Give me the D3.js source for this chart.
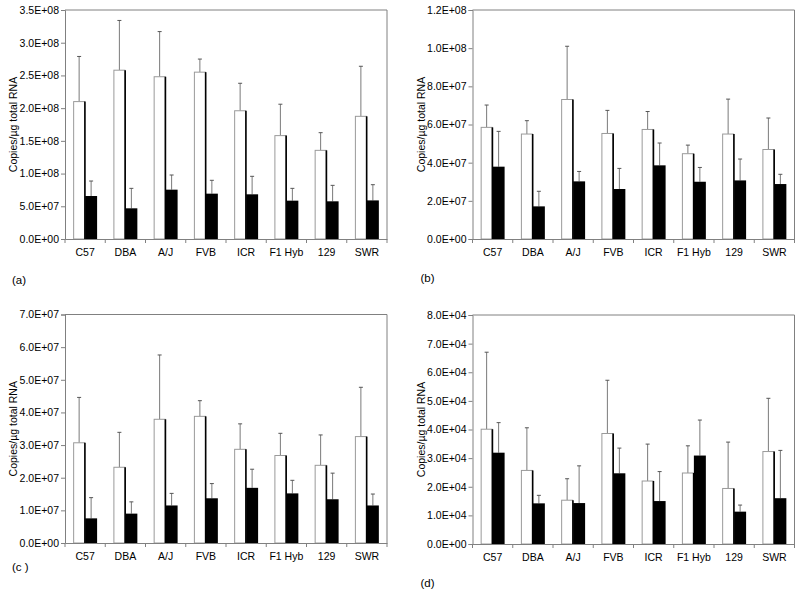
<!DOCTYPE html>
<html>
<head>
<meta charset="utf-8">
<script src="https://cdn.jsdelivr.net/npm/d3@7"></script>
<style>
  html, body { margin: 0; padding: 0; background: #fff; }
  svg { display: block; font-family: "Liberation Sans", Arial, sans-serif; }
</style>
</head>
<body>
<svg id="chart" width="800" height="592"></svg>
<script>
// ---------- DATA ----------
const categories = ["C57", "DBA", "A/J", "FVB", "ICR", "F1 Hyb", "129", "SWR"];
const yTitle = "Copies/\u00b5g total RNA";
const panelLabels = ["(a)", "(b)", "(c )", "(d)"];

// panel (a)
const aWhite    = [2.10e8, 2.58e8, 2.48e8, 2.55e8, 1.96e8, 1.58e8, 1.355e8, 1.875e8];
const aWhiteErr = [0.69e8, 0.76e8, 0.69e8, 0.20e8, 0.42e8, 0.48e8, 0.27e8, 0.765e8];
const aBlack    = [0.657e8, 0.469e8, 0.754e8, 0.693e8, 0.683e8, 0.586e8, 0.576e8, 0.59e8];
const aBlackErr = [0.229e8, 0.305e8, 0.224e8, 0.204e8, 0.275e8, 0.188e8, 0.244e8, 0.24e8];
const aTicks    = [0, 0.5e8, 1.0e8, 1.5e8, 2.0e8, 2.5e8, 3.0e8, 3.5e8];

// panel (b)
const bWhite    = [5.85e7, 5.5e7, 7.31e7, 5.53e7, 5.74e7, 4.47e7, 5.5e7, 4.69e7];
const bWhiteErr = [1.17e7, 0.70e7, 2.79e7, 1.21e7, 0.94e7, 0.45e7, 1.83e7, 1.65e7];
const bBlack    = [3.79e7, 1.71e7, 3.02e7, 2.62e7, 3.86e7, 3.0e7, 3.07e7, 2.88e7];
const bBlackErr = [1.85e7, 0.79e7, 0.52e7, 1.08e7, 1.17e7, 0.75e7, 1.12e7, 0.51e7];
const bTicks    = [0, 2e7, 4e7, 6e7, 8e7, 1.0e8, 1.2e8];

// panel (c)
const cWhite    = [3.07e7, 2.32e7, 3.79e7, 3.88e7, 2.87e7, 2.68e7, 2.38e7, 3.26e7];
const cWhiteErr = [1.39e7, 1.07e7, 1.97e7, 0.48e7, 0.78e7, 0.68e7, 0.93e7, 1.51e7];
const cBlack    = [0.755e7, 0.90e7, 1.15e7, 1.37e7, 1.69e7, 1.52e7, 1.34e7, 1.15e7];
const cBlackErr = [0.635e7, 0.36e7, 0.37e7, 0.45e7, 0.57e7, 0.40e7, 0.80e7, 0.35e7];
const cTicks    = [0, 1e7, 2e7, 3e7, 4e7, 5e7, 6e7, 7e7];

// panel (d)
const dWhite    = [4.01e4, 2.57e4, 1.53e4, 3.86e4, 2.20e4, 2.48e4, 1.94e4, 3.23e4];
const dWhiteErr = [2.69e4, 1.49e4, 0.75e4, 1.86e4, 1.29e4, 0.95e4, 1.62e4, 1.86e4];
const dBlack    = [3.19e4, 1.42e4, 1.43e4, 2.47e4, 1.50e4, 3.09e4, 1.13e4, 1.60e4];
const dBlackErr = [1.05e4, 0.28e4, 1.30e4, 0.88e4, 1.03e4, 1.24e4, 0.23e4, 1.67e4];
const dTicks    = [0, 1e4, 2e4, 3e4, 4e4, 5e4, 6e4, 7e4, 8e4];

// ---------- LAYOUT ----------
const panels = [
  { white: aWhite, whiteErr: aWhiteErr, black: aBlack, blackErr: aBlackErr, ticks: aTicks,
    left: 65, right: 387, top: 10, bottom: 239, titleX: 13, labelX: 12, labelY: 284, label: panelLabels[0] },
  { white: bWhite, whiteErr: bWhiteErr, black: bBlack, blackErr: bBlackErr, ticks: bTicks,
    left: 472.5, right: 794.5, top: 10, bottom: 239, titleX: 421.5, labelX: 420.5, labelY: 282, label: panelLabels[1] },
  { white: cWhite, whiteErr: cWhiteErr, black: cBlack, blackErr: cBlackErr, ticks: cTicks,
    left: 65, right: 387, top: 314.5, bottom: 543, titleX: 13, labelX: 12, labelY: 571, label: panelLabels[2] },
  { white: dWhite, whiteErr: dWhiteErr, black: dBlack, blackErr: dBlackErr, ticks: dTicks,
    left: 472.5, right: 794.5, top: 315, bottom: 544, titleX: 421.5, labelX: 420.5, labelY: 587, label: panelLabels[3] }
];

function fmtE(v) {
  if (v === 0) return "0.0E+00";
  const e = Math.floor(Math.log10(v) + 1e-9);
  const m = v / Math.pow(10, e);
  return m.toFixed(1) + "E+" + String(e).padStart(2, "0");
}

const svg = d3.select("#chart");
const axisGray = "#808080";
const fontSize = 10.5;

panels.forEach(p => {
  const g = svg.append("g");
  const x = d3.scaleBand().domain(categories).range([p.left, p.right]).padding(0);
  const sub = d3.scaleBand().domain(["white", "black"]).range([0, x.bandwidth()])
    .paddingInner(0).paddingOuter(0.68).align(0.5);
  const y = d3.scaleLinear().domain([0, d3.max(p.ticks)]).range([p.bottom, p.top]);

  // frame (top + right)
  g.append("path")
    .attr("d", `M${p.left},${p.top}H${p.right}V${p.bottom}`)
    .attr("fill", "none").attr("stroke", axisGray).attr("stroke-width", 1);

  const rows = categories.map((c, i) => ({
    c, w: p.white[i], we: p.whiteErr[i], b: p.black[i], be: p.blackErr[i]
  }));

  // error bars (drawn behind bars)
  const err = [];
  rows.forEach(r => {
    err.push({ cx: x(r.c) + sub("white") + sub.bandwidth() / 2, v: r.w, e: r.we });
    err.push({ cx: x(r.c) + sub("black") + sub.bandwidth() / 2, v: r.b, e: r.be });
  });
  const eg = g.append("g").attr("stroke", "#7a7a7a").attr("stroke-width", 1);
  eg.selectAll("line.v").data(err).join("line").attr("class", "v")
    .attr("x1", d => d.cx).attr("x2", d => d.cx)
    .attr("y1", d => y(d.v)).attr("y2", d => y(d.v + d.e));
  eg.selectAll("line.cap").data(err).join("line").attr("class", "cap")
    .attr("stroke", "#555")
    .attr("x1", d => d.cx - 2).attr("x2", d => d.cx + 2)
    .attr("y1", d => y(d.v + d.e)).attr("y2", d => y(d.v + d.e));

  // white bars
  g.selectAll("rect.w").data(rows).join("rect").attr("class", "w")
    .attr("x", d => x(d.c) + sub("white") + 0.5)
    .attr("y", d => y(d.w))
    .attr("width", sub.bandwidth() - 1)
    .attr("height", d => y(0) - y(d.w))
    .attr("fill", "#fff").attr("stroke", "#9a9a9a").attr("stroke-width", 1);
  // white bar shadow edge on the right
  g.selectAll("line.wr").data(rows).join("line").attr("class", "wr")
    .attr("x1", d => x(d.c) + sub("white") + sub.bandwidth() - 0.2)
    .attr("x2", d => x(d.c) + sub("white") + sub.bandwidth() - 0.2)
    .attr("y1", d => y(d.w)).attr("y2", y(0))
    .attr("stroke", "#000").attr("stroke-width", 1.6);

  // black bars
  g.selectAll("rect.b").data(rows).join("rect").attr("class", "b")
    .attr("x", d => x(d.c) + sub("black"))
    .attr("y", d => y(d.b))
    .attr("width", sub.bandwidth())
    .attr("height", d => y(0) - y(d.b))
    .attr("fill", "#000");

  // redraw error bar stubs above black bars? (error bar goes up from bar top, already visible)

  // y axis
  const ya = g.append("g").attr("transform", `translate(${p.left},0)`)
    .call(d3.axisLeft(y).tickValues(p.ticks).tickFormat(fmtE).tickSize(4).tickPadding(2));
  ya.select(".domain").attr("stroke", axisGray);
  ya.selectAll(".tick line").attr("stroke", axisGray);
  ya.selectAll("text").attr("font-size", fontSize).attr("fill", "#000")
    .attr("font-family", "Liberation Sans, Arial, sans-serif");

  // x axis
  const xa = g.append("g").attr("transform", `translate(0,${p.bottom})`)
    .call(d3.axisBottom(x).tickSize(0).tickPadding(10));
  xa.select(".domain").attr("stroke", axisGray);
  xa.selectAll("text").attr("font-size", fontSize).attr("fill", "#000")
    .attr("font-family", "Liberation Sans, Arial, sans-serif");
  // boundary ticks
  const bounds = categories.map(c => x(c)).concat([x(categories[categories.length - 1]) + x.bandwidth()]);
  g.selectAll("line.xt").data(bounds).join("line").attr("class", "xt")
    .attr("x1", d => d).attr("x2", d => d)
    .attr("y1", p.bottom).attr("y2", p.bottom + 4)
    .attr("stroke", axisGray);

  // y title
  g.append("text")
    .attr("transform", `translate(${p.titleX},${(p.top + p.bottom) / 2}) rotate(-90)`)
    .attr("text-anchor", "middle").attr("dy", "0.35em")
    .attr("font-size", fontSize).attr("fill", "#000")
    .text(yTitle);

  // panel label
  g.append("text").attr("x", p.labelX).attr("y", p.labelY)
    .attr("font-size", 11.5).attr("fill", "#000").text(p.label);
});
</script>
</body>
</html>
